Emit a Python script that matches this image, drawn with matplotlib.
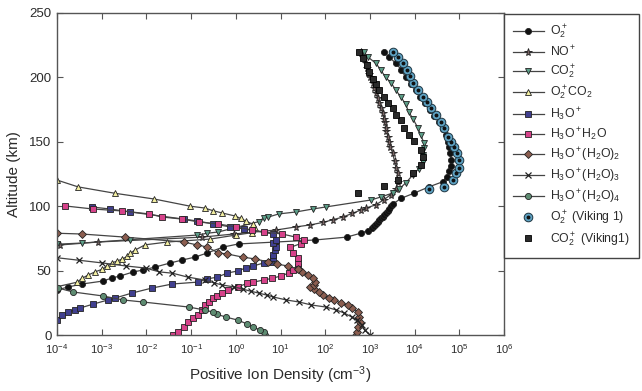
import numpy as np
import matplotlib
matplotlib.use("Agg")
import matplotlib.pyplot as plt
from matplotlib.ticker import LogLocator, LogFormatterMathtext, NullLocator, MultipleLocator

plt.rcParams['font.family'] = ['Liberation Sans', 'DejaVu Sans']
plt.rcParams['mathtext.fontset'] = 'custom'
plt.rcParams['mathtext.rm'] = 'Liberation Sans'
plt.rcParams['mathtext.it'] = 'Liberation Sans:italic'
plt.rcParams['mathtext.bf'] = 'Liberation Sans:bold'

TXT = "#2b2b2b"; AX = "#555555"; LINE = "#444444"

# values: altitude (km) and log10 of density (cm^-3)
o2p_alt = [35, 37.3, 39.6, 41.9, 44.3, 45.8, 48.9, 50.5, 52.8, 55.9, 58.2, 60.5, 63.7, 68.3,
           70.7, 72.2, 73.8, 76, 79, 81, 83, 84.5, 86, 87.5, 89, 90.5, 92, 93.5, 95, 96.5, 98,
           100, 101.5, 106, 110, 115, 119, 123, 127, 131, 136, 141, 146, 150, 155, 160, 165,
           170, 175, 180, 185, 190, 195, 200, 206, 211, 216, 220]
o2p_log = [-4.0, -3.75, -3.44, -2.97, -2.77, -2.59, -2.30, -2.07, -1.80, -1.47, -1.20, -0.91,
           -0.64, -0.28, 0.06, 0.90, 1.78, 2.48, 2.79, 2.95, 3.04, 3.08, 3.13, 3.17, 3.21, 3.25,
           3.29, 3.32, 3.36, 3.40, 3.43, 3.47, 3.51, 3.69, 3.98, 4.32, 4.63, 4.72, 4.78, 4.82,
           4.82, 4.80, 4.78, 4.75, 4.70, 4.63, 4.54, 4.44, 4.34, 4.24, 4.13, 4.02, 3.91, 3.80,
           3.70, 3.58, 3.42, 3.31]

nop_alt = [69.9, 72.2, 76, 78.4, 81.5, 83.9, 85.5, 87.5, 89.5, 91.5, 94.5, 97, 98.6, 101, 105,
           109, 113, 119, 126, 130, 135, 141, 146, 150, 154, 158, 161, 165, 168, 172, 176, 180,
           184, 188, 192, 196, 200, 203, 207, 211, 216, 220]
nop_log = [-3.93, -3.08, -0.75, -0.05, 0.90, 1.34, 1.67, 1.96, 2.17, 2.39, 2.61, 2.79, 2.91,
           3.13, 3.31, 3.47, 3.58, 3.62, 3.62, 3.58, 3.55, 3.51, 3.46, 3.42, 3.40, 3.37, 3.35,
           3.33, 3.31, 3.29, 3.25, 3.20, 3.17, 3.13, 3.10, 3.06, 3.01, 2.97, 2.94, 2.91, 2.85,
           2.79]

co2p_alt = [70.5, 71.4, 74, 77.6, 79, 80, 88, 90.8, 91.6, 94, 95.5, 97.8, 99.4, 104.8, 107.1,
            110.2, 113.3, 118, 124.2, 129, 134, 139.7, 145, 149, 155, 161, 168, 173, 179, 185,
            190, 196, 200, 206, 211, 216, 220]
co2p_log = [-4.0, -3.44, -2.36, -0.86, -0.64, -0.39, 0.51, 0.62, 0.73, 0.96, 1.34, 1.72, 2.01,
            3.02, 3.24, 3.51, 3.65, 3.80, 3.96, 4.09, 4.18, 4.18, 4.21, 4.21, 4.14, 4.07, 3.96,
            3.87, 3.80, 3.69, 3.58, 3.47, 3.35, 3.24, 3.13, 2.95, 2.86]

o2co2_alt = [37.5, 41, 44, 46.6, 49, 51, 53.5, 56, 57.5, 59, 61, 63.5, 66, 70, 72.2, 74.5,
             77.6, 79.5, 83, 86, 88.5, 90.5, 92.4, 94.7, 96.6, 98.6, 100, 105.6, 110, 115, 120.3]
o2co2_log = [-4.0, -3.55, -3.44, -3.30, -3.15, -2.99, -2.88, -2.77, -2.65, -2.54, -2.43, -2.36,
             -2.25, -2.03, -1.53, -0.57, 0.0, 0.37, 0.44, 0.38, 0.22, 0.11, -0.02, -0.30, -0.52,
             -0.70, -1.02, -1.83, -2.70, -3.53, -4.0]

h3o_alt = [11.6, 15.5, 17.9, 19.4, 21, 24, 27.2, 28.7, 32.6, 36.5, 39.6, 41.1, 43.5, 45, 48.1,
           49.7, 52, 53.6, 55.9, 56.7, 59.8, 62, 66, 68.3, 71.4, 73.8, 78.4, 82.3, 83.9, 86.2,
           88.5, 90, 95.5, 97.8, 99.4]
h3o_log = [-4.0, -3.89, -3.75, -3.60, -3.48, -3.19, -2.86, -2.70, -2.32, -1.87, -1.42, -0.84,
           -0.64, -0.41, -0.19, 0.04, 0.22, 0.39, 0.62, 0.78, 0.84, 0.84, 0.87, 0.89, 0.84, 0.89,
           0.84, 0.19, -0.12, -0.50, -0.86, -1.17, -2.36, -2.81, -3.22]

h3o1_alt = [0, 2.3, 6.2, 10, 13.2, 15.5, 19.4, 23.3, 25.6, 28.7, 30, 32.6, 35, 37.5, 40, 41,
            42.7, 44, 45.8, 48, 50.5, 53, 56, 60, 64, 68, 71, 74, 76, 78.4, 80, 81.5, 83.9,
            86.2, 87.7, 90, 91.6, 94, 96.3, 97.8, 100.2]
h3o1_log = [-1.40, -1.29, -1.17, -1.06, -0.95, -0.84, -0.75, -0.68, -0.61, -0.52, -0.41, -0.30,
            -0.17, 0.04, 0.26, 0.39, 0.62, 0.82, 1.0, 1.18, 1.29, 1.38, 1.40, 1.38, 1.29, 1.22,
            1.45, 1.52, 1.34, 1.04, 0.62, 0.37, 0.0, -0.39, -0.82, -1.20, -1.65, -1.94, -2.54,
            -3.19, -3.82]

h3o2_alt = [0, 2.3, 6.2, 10, 14, 17.9, 21, 23.3, 24.8, 27.2, 28.7, 31, 33.4, 35.7, 37.3, 38.8,
            41.1, 44.3, 46.6, 48.9, 51.2, 53.6, 55, 56.7, 59, 60.5, 62.9, 63.7, 68.3, 69.9, 72.2,
            76, 78.4, 79]
h3o2_log = [2.68, 2.70, 2.73, 2.77, 2.75, 2.73, 2.61, 2.50, 2.35, 2.19, 2.08, 1.96, 1.85, 1.74,
            1.67, 1.74, 1.78, 1.72, 1.61, 1.49, 1.38, 1.16, 0.93, 0.73, 0.44, 0.15, -0.19, -0.39,
            -0.64, -0.86, -1.17, -2.48, -3.44, -4.0]

h3o3_alt = [0, 3.9, 7.8, 11.6, 14, 17, 19.4, 21.7, 23.3, 25.6, 27.2, 29.5, 31, 32.6, 34, 35.7,
            37.3, 38.8, 40.4, 42.7, 45, 48, 49, 52, 53.6, 56, 58, 60]
h3o3_log = [3.0, 2.88, 2.82, 2.70, 2.59, 2.43, 2.25, 2.02, 1.69, 1.42, 1.13, 0.84, 0.69, 0.51,
            0.33, 0.15, -0.03, -0.30, -0.48, -0.70, -1.08, -1.42, -1.71, -2.02, -2.46, -3.0,
            -3.5, -4.0]

h3o4_alt = [0, 2.3, 4, 6.2, 8.5, 11.6, 14, 16, 17.9, 19.4, 21.7, 25.6, 27.2, 30.3, 33.4, 36.5]
h3o4_log = [0.66, 0.62, 0.53, 0.39, 0.26, 0.04, -0.23, -0.41, -0.52, -0.70, -1.05, -2.07, -2.52,
            -2.97, -3.64, -3.98]

vk_o2p_alt = [113, 115, 120, 126, 130, 136, 141, 146, 150, 154, 161, 165, 171, 176, 181, 185,
              190, 196, 201, 206, 211, 216, 220]
vk_o2p_log = [4.32, 4.65, 4.86, 4.92, 4.99, 4.99, 4.95, 4.88, 4.81, 4.74, 4.65, 4.59, 4.48, 4.36,
              4.27, 4.18, 4.07, 3.96, 3.90, 3.83, 3.74, 3.62, 3.51]

vk_co2p_alt = [110, 116, 120, 126, 132, 138, 144, 151, 155, 161, 167, 171, 176, 180, 185, 190,
               195, 199, 204, 210, 215, 220]
vk_co2p_log = [2.73, 3.31, 3.62, 3.96, 4.14, 4.18, 4.14, 3.98, 3.87, 3.76, 3.69, 3.58, 3.51, 3.40,
               3.31, 3.20, 3.13, 3.06, 2.97, 2.93, 2.84, 2.75]

fig = plt.figure(figsize=(6.42, 3.91), dpi=100)
ax = fig.add_axes([0.0888, 0.1432, 0.6963, 0.8236])

models = [
    (o2p_alt, o2p_log, "o", "#111111", 4.4, r"O$_2^+$"),
    (nop_alt, nop_log, "*", "#7a6464", 5.8, r"NO$^+$"),
    (co2p_alt, co2p_log, "v", "#5c9e88", 4.8, r"CO$_2^+$"),
    (o2co2_alt, o2co2_log, "^", "#f3efa2", 4.8, r"O$_2^+$CO$_2$"),
    (h3o_alt, h3o_log, "s", "#403f8f", 4.3, r"H$_3$O$^+$"),
    (h3o1_alt, h3o1_log, "s", "#d6428a", 4.3, r"H$_3$O$^+$H$_2$O"),
    (h3o2_alt, h3o2_log, "D", "#8c5e50", 3.9, r"H$_3$O$^+$(H$_2$O)$_2$"),
    (h3o3_alt, h3o3_log, "x", "#333333", 4.2, r"H$_3$O$^+$(H$_2$O)$_3$"),
    (h3o4_alt, h3o4_log, "o", "#5e8c72", 4.4, r"H$_3$O$^+$(H$_2$O)$_4$"),
]

handles = []
labels = []
for alt, lg, mk, fc, ms, lab in models:
    h, = ax.plot(10 ** np.array(lg), alt, color=LINE, lw=0.9, marker=mk, ms=ms,
                 mfc=fc, mec="#222222", mew=0.6 if mk != "x" else 0.9)
    handles.append(h); labels.append(lab)

h1, = ax.plot(10 ** np.array(vk_o2p_log), vk_o2p_alt, ls="none", marker="o", ms=6.2,
              mfc="#5fa3c4", mec="#1d3440", mew=0.7)
h2, = ax.plot(10 ** np.array(vk_o2p_log), vk_o2p_alt, ls="none", marker="o", ms=1.8,
              mfc="#111111", mec="#111111")
handles.append((h1, h2)); labels.append(r"O$_2^+$ (Viking 1)")
h3, = ax.plot(10 ** np.array(vk_co2p_log), vk_co2p_alt, ls="none", marker="s", ms=4.4,
              mfc="#2a2a2a", mec="#000000", mew=0.6)
handles.append(h3); labels.append(r"CO$_2^+$ (Viking1)")

ax.set_xscale("log")
ax.set_xlim(1e-4, 1e6)
ax.set_ylim(0, 250)
ax.xaxis.set_major_locator(LogLocator(base=10, numticks=20))
ax.xaxis.set_major_formatter(LogFormatterMathtext())
ax.xaxis.set_minor_locator(NullLocator())
ax.yaxis.set_major_locator(MultipleLocator(50))
ax.tick_params(direction="in", top=True, right=True, length=4, width=0.8, color=AX,
               labelcolor=TXT)
ax.tick_params(axis="x", labelsize=8, pad=5)
ax.tick_params(axis="y", labelsize=9.5, pad=4)
for sp in ax.spines.values():
    sp.set_edgecolor(AX); sp.set_linewidth(1.0)

ax.set_xlabel(r"Positive Ion Density (cm$^{-3}$)", fontsize=11, color=TXT, labelpad=6)
ax.set_ylabel("Altitude (km)", fontsize=11, color=TXT, labelpad=6)

leg = ax.legend(handles, labels, loc="lower left", bbox_to_anchor=(1.0, 0.239),
                frameon=True, fancybox=False, framealpha=1, edgecolor="#444444",
                fontsize=8.8, labelspacing=0.24, handlelength=2.5, handletextpad=0.55,
                borderpad=0.75, borderaxespad=0, labelcolor=TXT)
leg.get_frame().set_linewidth(1.0)

fig.savefig("out.png", dpi=100)
